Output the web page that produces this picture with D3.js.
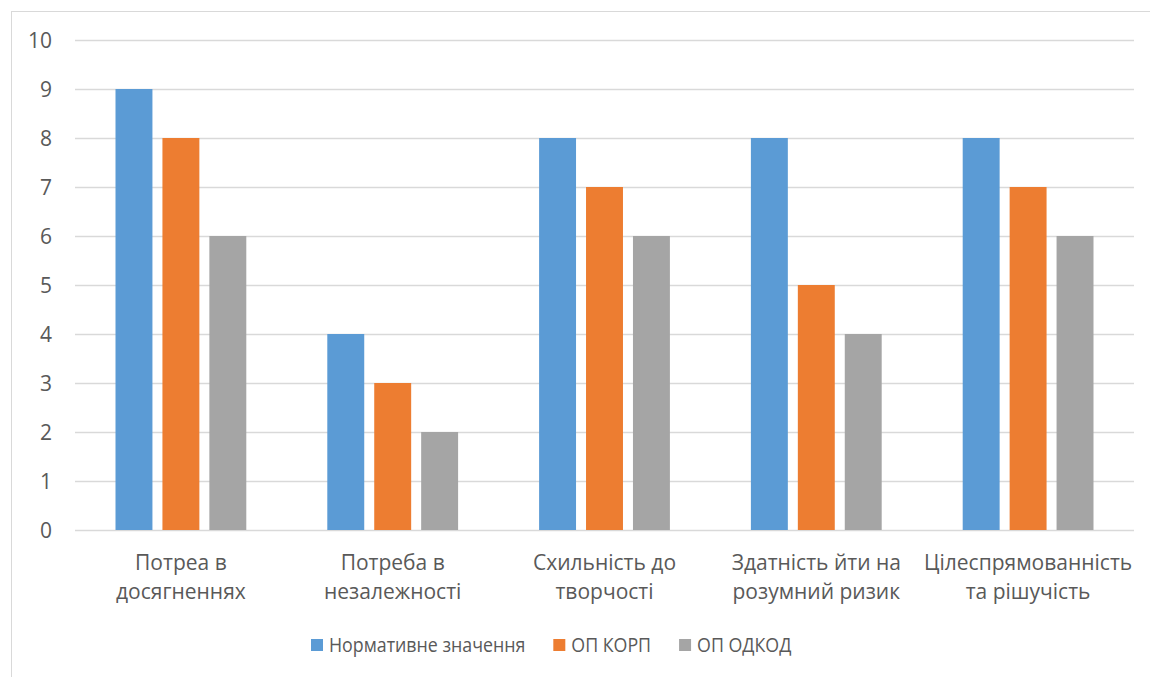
<!DOCTYPE html>
<html>
<head>
<meta charset="utf-8">
<script src="https://cdn.jsdelivr.net/npm/d3@7"></script>
<style>
  body { margin: 0; background: #fff; }
  text { font-family: "Open Sans", "Noto Sans", sans-serif; fill: #595959; }
</style>
</head>
<body>
<div id="chart"></div>
<script>
const width = 1150;
const height = 677;

const categories = [
    ["Потреа в", "досягненнях"],
    ["Потреба в", "незалежності"],
    ["Схильність до", "творчості"],
    ["Здатність йти на", "розумний ризик"],
    ["Цілеспрямованність", "та рішучість"]
];
const seriesNames = ["Нормативне значення", "ОП КОРП", "ОП ОДКОД"];
const normValues = [9, 4, 8, 8, 8];
const korpValues = [8, 3, 7, 5, 7];
const odkodValues = [6, 2, 6, 4, 6];
const yTicks = [0, 1, 2, 3, 4, 5, 6, 7, 8, 9, 10];
const colors = ["#5B9BD5", "#ED7D31", "#A5A5A5"];

const seriesValues = [normValues, korpValues, odkodValues];
const margin = {left: 75, right: 16, top: 40, bottom: 147};

const svg = d3.select("#chart")
    .append("svg")
    .attr("width", width)
    .attr("height", height);

// chart border
svg.append("rect")
    .attr("x", 11.5)
    .attr("y", 11.5)
    .attr("width", width - 10)
    .attr("height", height)
    .attr("fill", "none")
    .attr("stroke", "#D9D9D9");

const x0 = d3.scaleBand()
    .domain(d3.range(categories.length))
    .range([margin.left, width - margin.right]);

const x1 = d3.scaleBand()
    .domain(d3.range(seriesNames.length))
    .range([40.5, x0.bandwidth() - 40.5])
    .paddingInner(0.213);

const y = d3.scaleLinear()
    .domain([0, 10])
    .range([height - margin.bottom, margin.top]);

// gridlines
svg.append("g")
    .selectAll("line")
    .data(yTicks)
    .enter()
    .append("line")
    .attr("x1", margin.left)
    .attr("x2", width - margin.right)
    .attr("y1", d => Math.round(y(d)) + 0.5)
    .attr("y2", d => Math.round(y(d)) + 0.5)
    .attr("stroke", "#D9D9D9")
    .attr("stroke-width", 1.3);

// y tick labels
svg.append("g")
    .selectAll("text")
    .data(yTicks)
    .enter()
    .append("text")
    .attr("x", 52)
    .attr("y", d => y(d))
    .attr("dy", "0.36em")
    .attr("text-anchor", "end")
    .style("font-size", "21px")
    .text(d => d);

// bars
const groups = svg.append("g")
    .selectAll("g")
    .data(categories)
    .enter()
    .append("g")
    .attr("transform", (d, i) => `translate(${x0(i)},0)`);

groups.selectAll("rect")
    .data((d, i) => seriesValues.map((vals, s) => ({s, v: vals[i]})))
    .enter()
    .append("rect")
    .attr("x", d => x1(d.s))
    .attr("width", x1.bandwidth())
    .attr("y", d => y(d.v))
    .attr("height", d => y(0) - y(d.v))
    .attr("fill", d => colors[d.s]);

// category labels
const catLabels = groups.append("text")
    .attr("text-anchor", "middle")
    .style("font-size", "21px");

catLabels.selectAll("tspan")
    .data(d => d)
    .enter()
    .append("tspan")
    .attr("x", x0.bandwidth() / 2)
    .attr("y", (d, i) => 570 + i * 29)
    .text(d => d);

// legend (text squeezed horizontally, like the original)
const squeeze = 0.89;
const legend = svg.append("g");
let lx = 0;
seriesNames.forEach((name, i) => {
    const item = legend.append("g").attr("transform", `translate(${lx},0)`);
    item.append("rect")
        .attr("x", 0)
        .attr("y", 639)
        .attr("width", 12)
        .attr("height", 12)
        .attr("fill", colors[i]);
    const t = item.append("text")
        .attr("transform", `translate(18,645) scale(${squeeze},1)`)
        .attr("dy", "0.36em")
        .style("font-size", "20px")
        .text(name);
    lx += 18 + t.node().getComputedTextLength() * squeeze + 28;
});
legend.attr("transform", `translate(${311},0)`);
</script>
</body>
</html>
